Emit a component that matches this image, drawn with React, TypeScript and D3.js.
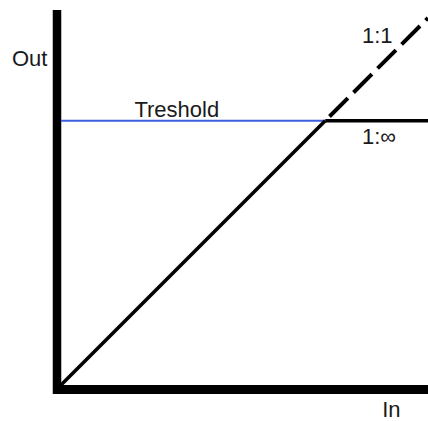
import React, { useEffect, useRef } from "react";
import * as d3 from "d3";

// transfer curve of a limiter, input / output in the same units
const threshold = 72;
const maxLevel = 100;

const belowThreshold: [number, number][] = [[0, 0], [threshold, threshold]];
const unityAbove: [number, number][] = [[threshold, threshold], [maxLevel, maxLevel]];
const limitedAbove: [number, number][] = [[threshold, threshold], [maxLevel, threshold]];
const thresholdLine: [number, number][] = [[0, threshold], [threshold, threshold]];

const App = () => {
  const svgRef = useRef<SVGSVGElement>(null);

  useEffect(() => {
    const width = 428;
    const height = 421;
    const origin = { x: 61, y: 385 };

    const svg = d3.select(svgRef.current);
    svg.selectAll("*").remove();
    svg.attr("width", width).attr("height", height);

    const x = d3.scaleLinear().domain([0, maxLevel]).range([origin.x, width]);
    const y = d3
      .scaleLinear()
      .domain([0, maxLevel])
      .range([origin.y, origin.y - (width - origin.x)]);

    const line = d3
      .line<[number, number]>()
      .x((d) => x(d[0]))
      .y((d) => y(d[1]));

    // axes as thick bars
    svg
      .append("line")
      .attr("x1", x(0) - 4)
      .attr("x2", x(0) - 4)
      .attr("y1", 10)
      .attr("y2", y(0) + 9)
      .attr("stroke", "#000")
      .attr("stroke-width", 8.5);

    svg
      .append("line")
      .attr("x1", x(0) - 8)
      .attr("x2", width)
      .attr("y1", y(0) + 4.5)
      .attr("y2", y(0) + 4.5)
      .attr("stroke", "#000")
      .attr("stroke-width", 9);

    // threshold
    svg
      .append("path")
      .datum(thresholdLine)
      .attr("fill", "none")
      .attr("stroke", "#3d5fe0")
      .attr("stroke-width", 2)
      .attr("d", line);

    svg
      .append("path")
      .datum(limitedAbove)
      .attr("fill", "none")
      .attr("stroke", "#000")
      .attr("stroke-width", 3.5)
      .attr("d", line);

    svg
      .append("path")
      .datum(belowThreshold)
      .attr("fill", "none")
      .attr("stroke", "#000")
      .attr("stroke-width", 3.5)
      .attr("d", line);

    svg
      .append("path")
      .datum(unityAbove)
      .attr("fill", "none")
      .attr("stroke", "#000")
      .attr("stroke-width", 4)
      .attr("stroke-dasharray", "26 8")
      .attr("stroke-dashoffset", -6)
      .attr("d", line);

    const text = (s: string, tx: number, ty: number) =>
      svg
        .append("text")
        .attr("x", tx)
        .attr("y", ty)
        .attr("font-family", "Liberation Sans, Arial, sans-serif")
        .attr("font-size", 22)
        .attr("fill", "#1a1a1a")
        .text(s);

    text("Out", x(0) - 49, 66);
    text("Treshold", x(20), y(threshold) - 4);
    text("1:1", x(82), 43);
    text("1:\u221e", x(82), y(threshold) + 23);
    text("In", x(87.5), 417);
  }, []);

  return (
    <svg ref={svgRef} style={{ position: "absolute", left: 0, top: 0 }}></svg>
  );
};

export default App;
